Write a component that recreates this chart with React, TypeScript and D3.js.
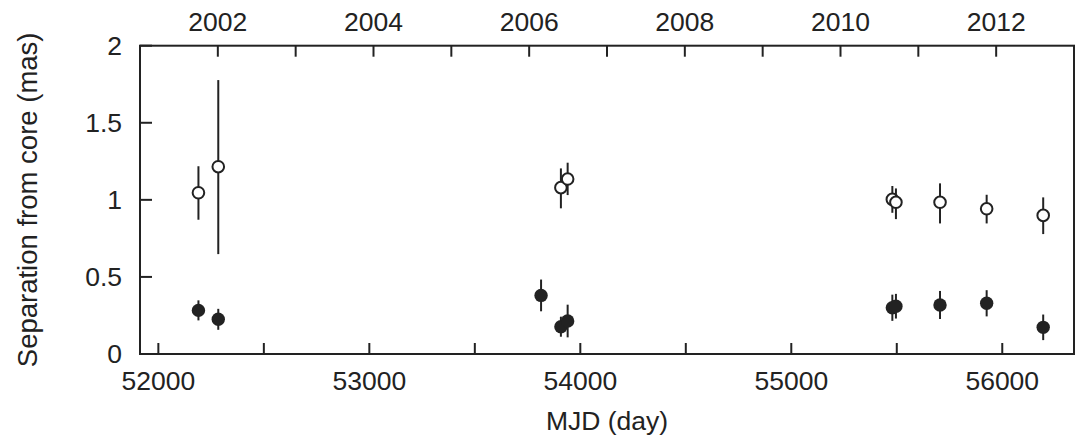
import React from "react";
import * as d3 from "d3";

// Outer component (open circles)
const openMJD = [52190, 52284, 53908, 53940, 55479, 55496, 55705, 55926, 56194];
const openSep = [1.046, 1.215, 1.079, 1.135, 1.003, 0.984, 0.984, 0.942, 0.899];
const openErrLo = [0.175, 0.567, 0.134, 0.104, 0.087, 0.109, 0.137, 0.095, 0.121];
const openErrHi = [0.172, 0.562, 0.125, 0.106, 0.087, 0.09, 0.123, 0.091, 0.117];

// Inner component (filled circles)
const filledMJD = [52190, 52284, 53814, 53908, 53940, 55479, 55496, 55705, 55926, 56194];
const filledSep = [0.283, 0.225, 0.380, 0.177, 0.214, 0.300, 0.310, 0.318, 0.329, 0.173];
const filledErr = [0.065, 0.068, 0.103, 0.065, 0.106, 0.085, 0.08, 0.091, 0.085, 0.083];

const xTicks = [52000, 52500, 53000, 53500, 54000, 54500, 55000, 55500, 56000];
const xTickLabels = ["52000", "", "53000", "", "54000", "", "55000", "", "56000"];
const yearTicks = [2002, 2003, 2004, 2005, 2006, 2007, 2008, 2009, 2010, 2011, 2012];
const yearLabels = ["2002", "", "2004", "", "2006", "", "2008", "", "2010", "", "2012"];
const yTicks = [0, 0.5, 1, 1.5, 2];
const yTickLabels = ["0", "0.5", "1", "1.5", "2"];

const W = 1078;
const H = 436;
const left = 140;
const right = 1074;
const top = 45.7;
const bottom = 354;

export default function App() {
  const x = d3.scaleLinear().domain([51913, 56340]).range([left, right]);
  const xYear = d3.scaleLinear().domain([2001, 2013]).range([left, right]);
  const y = d3.scaleLinear().domain([0, 2]).range([bottom, top]);
  const font = "'Liberation Sans', Arial, Helvetica, sans-serif";
  const ink = "#222";
  const tickLen = 11;
  const fs = 26.5;

  return (
    <div style={{ position: "absolute", left: 0, top: 0, width: W, height: H, background: "#fff" }}>
      <svg width={W} height={H} style={{ display: "block" }} fontFamily={font}>
        <rect width={W} height={H} fill="#fff" />
        {/* frame */}
        <rect x={left} y={top} width={right - left} height={bottom - top} fill="none" stroke={ink} strokeWidth={2} />
        {/* bottom ticks */}
        {xTicks.map((t, i) => (
          <g key={"bx" + t}>
            <line x1={x(t)} x2={x(t)} y1={bottom} y2={bottom - tickLen} stroke={ink} strokeWidth={2} />
            {xTickLabels[i] && (
              <text x={x(t)} y={390} textAnchor="middle" fontSize={fs} fill={ink}>
                {xTickLabels[i]}
              </text>
            )}
          </g>
        ))}
        {/* top ticks (years) */}
        {yearTicks.map((t, i) => (
          <g key={"ty" + t}>
            <line x1={xYear(t)} x2={xYear(t)} y1={top} y2={top + tickLen} stroke={ink} strokeWidth={2} />
            {yearLabels[i] && (
              <text x={xYear(t)} y={30.7} textAnchor="middle" fontSize={fs} fill={ink}>
                {yearLabels[i]}
              </text>
            )}
          </g>
        ))}
        {/* left ticks */}
        {yTicks.map((t, i) => (
          <g key={"ly" + t}>
            <line x1={left} x2={left + 12} y1={y(t)} y2={y(t)} stroke={ink} strokeWidth={2} />
            <text x={122} y={y(t) + 9.4} textAnchor="end" fontSize={fs} fill={ink}>
              {yTickLabels[i]}
            </text>
          </g>
        ))}
        {/* axis titles */}
        <text x={(left + right) / 2} y={430} textAnchor="middle" fontSize={fs} fill={ink}>
          MJD (day)
        </text>
        <text
          transform={`translate(37, ${(top + bottom) / 2}) rotate(-90)`}
          textAnchor="middle"
          fontSize={27.5}
          fill={ink}
        >
          Separation from core (mas)
        </text>
        {/* open circles */}
        {openMJD.map((m, i) => (
          <g key={"o" + i}>
            <line
              x1={x(m)}
              x2={x(m)}
              y1={y(openSep[i] - openErrLo[i])}
              y2={y(openSep[i] + openErrHi[i])}
              stroke={ink}
              strokeWidth={2}
            />
            <circle cx={x(m)} cy={y(openSep[i])} r={5.8} fill="#fff" stroke={ink} strokeWidth={2} />
          </g>
        ))}
        {/* filled circles */}
        {filledMJD.map((m, i) => (
          <g key={"f" + i}>
            <line
              x1={x(m)}
              x2={x(m)}
              y1={y(filledSep[i] - filledErr[i])}
              y2={y(filledSep[i] + filledErr[i])}
              stroke={ink}
              strokeWidth={2}
            />
            <circle cx={x(m)} cy={y(filledSep[i])} r={6.7} fill={ink} />
          </g>
        ))}
      </svg>
    </div>
  );
}
